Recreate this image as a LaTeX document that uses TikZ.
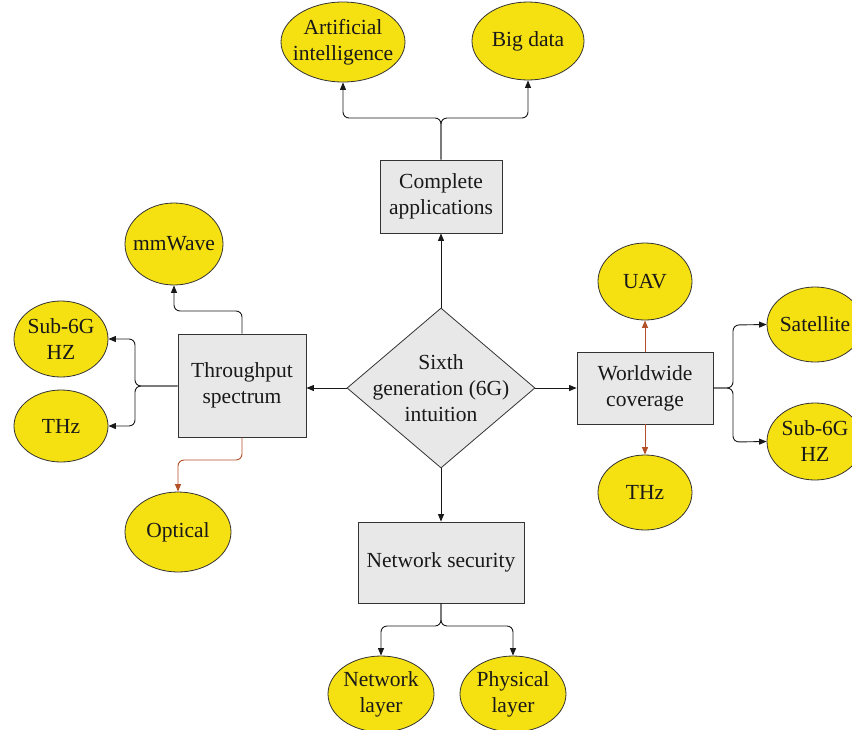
\documentclass[tikz,border=0pt]{standalone}
\usepackage{fontspec}
\setmainfont{Liberation Serif}
\usetikzlibrary{shapes.geometric,arrows.meta}
\definecolor{ylw}{RGB}{245,224,18}
\definecolor{gry}{RGB}{232,232,232}
\definecolor{brn}{RGB}{180,80,40}
\begin{document}
\begin{tikzpicture}[x=1pt,y=-1pt,
  txt/.style={font=\fontsize{21.5}{26}\selectfont, align=center, text=black!90},
  oval/.style={ellipse, draw=black!80, line width=0.8pt, fill=ylw, inner sep=0pt, label={[txt]center:#1}},
  rbox/.style={txt, rectangle, draw=black!80, line width=0.8pt, fill=gry, inner sep=0pt},
  conn/.style={draw=black!90, line width=0.9pt, rounded corners=6pt, -{Triangle[length=7.5pt,width=6pt]}},
  bconn/.style={conn, draw=brn, -{Triangle[length=7.5pt,width=6pt,fill=brn]}}
]
\useasboundingbox (0,0) rectangle (852,729);
% central diamond
\node[diamond, draw=black!80, line width=0.8pt, fill=gry, minimum width=188pt, minimum height=160pt, shape aspect=1.175, inner sep=0pt] (c) at (441,388) {};
\node[txt] (ct) at (c.center) {Sixth\\generation (6G)\\intuition};
% boxes
\node[rbox, minimum width=122pt, minimum height=73pt] (app) at (441,196.5) {Complete\\applications};
\node[rbox, minimum width=128pt, minimum height=103pt] (thr) at (242,385.5) {Throughput\\spectrum};
\node[rbox, minimum width=136pt, minimum height=72pt] (ww) at (645,388) {Worldwide\\coverage};
\node[rbox, minimum width=166pt, minimum height=81pt] (ns) at (441,562.5) {Network security};
% ovals
\node[oval={Artificial\\intelligence}, minimum width=124pt, minimum height=80pt] (ai) at (343,42) {};
\node[oval={Big data}, minimum width=112pt, minimum height=78pt] (bd) at (528,41) {};
\node[oval={mmWave}, minimum width=98pt, minimum height=82pt] (mm) at (174,244) {};
\node[oval={Sub-6G\\HZ}, minimum width=94pt, minimum height=76pt] (s6l) at (61,339) {};
\node[oval={THz}, minimum width=94pt, minimum height=72pt] (thl) at (61,426) {};
\node[oval={Optical}, minimum width=106pt, minimum height=80pt] (op) at (178,532) {};
\node[oval={UAV}, minimum width=94pt, minimum height=77pt] (uav) at (645,281.5) {};
\node[oval={THz}, minimum width=94pt, minimum height=75pt] (thr2) at (645,492.5) {};
\node[oval={Satellite}, minimum width=96pt, minimum height=75pt] (sat) at (815,324.5) {};
\node[oval={Sub-6G\\HZ}, minimum width=96pt, minimum height=77pt] (s6r) at (815,441.5) {};
\node[oval={Network\\layer}, minimum width=106pt, minimum height=76pt] (nl) at (381,694) {};
\node[oval={Physical\\layer}, minimum width=106pt, minimum height=76pt] (pl) at (513,694) {};
% center connectors
\draw[conn] (c.north) -- (app.south);
\draw[conn] (c.west) -- (thr.east |- c.west);
\draw[conn] (c.east) -- (ww.west);
\draw[conn] (c.south) -- (ns.north);
% applications
\draw[conn] (app.north) -- (441,118) -- (ai.south |- 0,118) -- (ai.south);
\draw[conn] (app.north) -- (441,118) -- (bd.south |- 0,118) -- (bd.south);
% throughput
\draw[conn] (thr.north) -- (242,311) -- (mm.south |- 0,311) -- (mm.south);
\draw[conn] (thr.west |- 0,386) -- (135,386) -- (135,339) -- (s6l.east);
\draw[conn] (thr.west |- 0,386) -- (135,386) -- (135,426) -- (thl.east);
\draw[bconn] (thr.south) -- (242,460) -- (op.north |- 0,460) -- (op.north);
% worldwide
\draw[bconn, rounded corners=0pt] (ww.north) -- (uav.south);
\draw[bconn, rounded corners=0pt] (ww.south) -- (thr2.north);
\draw[conn] (ww.east) -- (733,388) -- (733,325) -- (sat.west);
\draw[conn] (ww.east) -- (733,388) -- (733,442) -- (s6r.west);
% network security
\draw[conn] (ns.south) -- (441,626) -- (nl.north |- 0,626) -- (nl.north);
\draw[conn] (ns.south) -- (441,626) -- (pl.north |- 0,626) -- (pl.north);
\end{tikzpicture}
\end{document}
